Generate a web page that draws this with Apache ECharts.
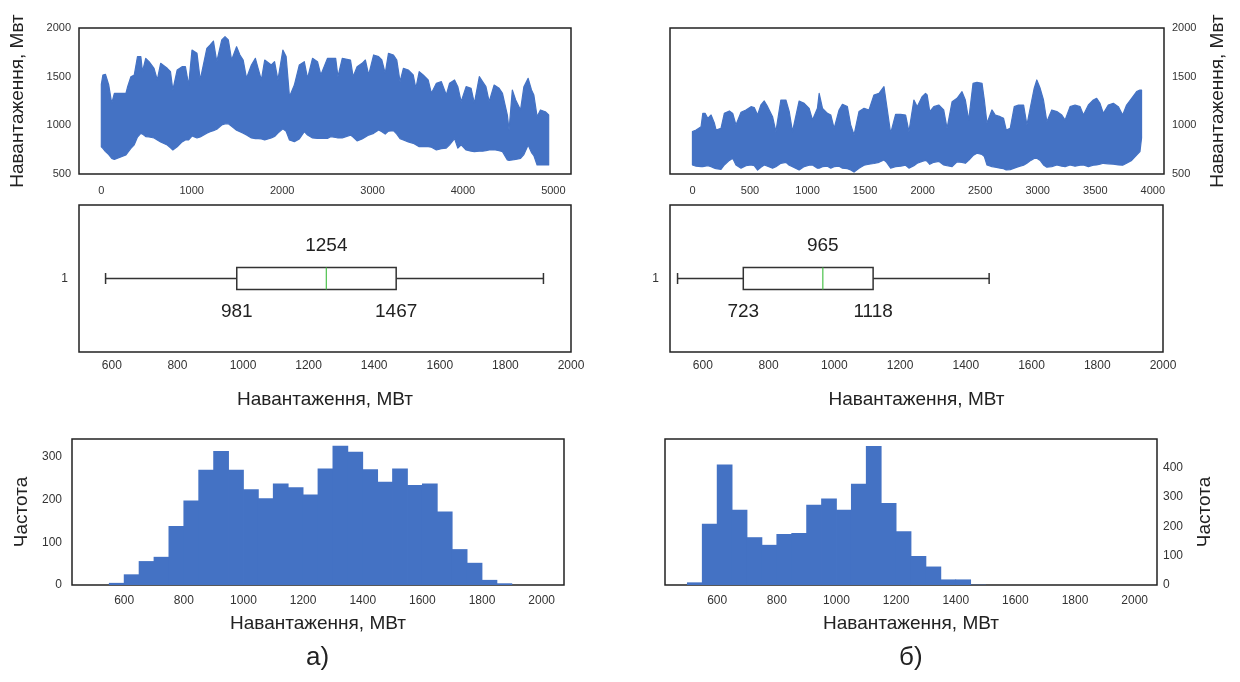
<!DOCTYPE html>
<html>
<head>
<meta charset="utf-8">
<script src="https://cdn.jsdelivr.net/npm/echarts@6/dist/echarts.min.js"></script>
<style>html,body{margin:0;padding:0;background:#fff}#chart{width:1240px;height:682px}</style>
</head>
<body>
<div id="chart"></div>
<script>
// ---------- DATA ----------
// a) hourly load, envelope (hour, daily max, daily min)
const hoursA = [0,17,46,82,115,144,272,291,327,364,400,437,455,491,528,583,619,656,729,765,791,839,893,930,966,1003,1058,1094,1167,1204,1240,1277,1332,1368,1405,1441,1496,1533,1569,1606,1660,1704,1734,1770,1807,1880,1916,1953,2008,2044,2081,2135,2190,2245,2281,2336,2391,2428,2501,2537,2592,2617,2665,2756,2785,2829,2884,2921,2957,3012,3067,3103,3140,3176,3231,3268,3304,3341,3395,3450,3479,3516,3560,3615,3651,3706,3761,3816,3852,3907,3943,3980,4035,4090,4126,4181,4217,4254,4290,4345,4400,4437,4491,4510,4546,4583,4637,4674,4721,4758,4784,4820,4857,4911,4948];
const upperA = [1420,1517,1524,1414,1226,1329,1329,1397,1500,1517,1706,1706,1551,1688,1654,1586,1466,1637,1586,1551,1363,1569,1603,1603,1414,1774,1740,1466,1791,1826,1866,1654,1877,1911,1877,1671,1808,1723,1671,1483,1620,1688,1586,1466,1671,1620,1654,1466,1774,1706,1295,1414,1620,1654,1483,1688,1654,1517,1688,1688,1688,1500,1688,1671,1500,1603,1637,1671,1517,1723,1706,1671,1534,1740,1723,1671,1449,1586,1569,1517,1380,1551,1517,1466,1329,1432,1449,1312,1432,1466,1397,1243,1397,1380,1226,1500,1449,1397,1243,1414,1380,1329,1106,952,1363,1260,1158,1397,1483,1363,1312,1089,1158,1140,1106];
const lowerA = [780,764,730,700,661,650,695,720,764,800,880,918,910,884,880,870,850,830,798,770,747,780,830,850,850,890,870,880,920,935,945,960,1004,1015,1015,990,950,935,920,900,870,864,864,860,850,870,885,920,965,940,850,832,860,935,900,870,866,866,866,884,875,870,870,900,880,840,860,880,900,918,952,935,910,940,945,910,864,850,830,815,800,781,781,781,775,747,760,766,800,864,766,800,747,735,730,735,735,740,747,750,740,730,644,640,644,650,661,700,798,720,690,593,593,593,593];

// б) hourly load envelope
const hoursB = [0,32,75,90,110,133,162,191,205,248,277,321,350,378,422,465,509,537,566,595,624,653,696,725,768,812,841,869,927,971,1014,1043,1086,1101,1130,1173,1202,1231,1274,1303,1346,1375,1404,1447,1491,1534,1577,1621,1664,1687,1722,1765,1809,1852,1881,1924,1953,1996,2025,2039,2062,2097,2140,2183,2212,2256,2299,2342,2371,2400,2438,2472,2516,2536,2559,2602,2631,2674,2703,2726,2761,2796,2833,2877,2906,2940,2969,2992,3021,3050,3079,3122,3166,3209,3238,3281,3324,3368,3397,3440,3483,3512,3541,3570,3613,3657,3700,3738,3772,3816,3859,3888,3902];
const upperB = [935,952,986,1123,1123,1072,1106,1021,952,969,1123,1148,1123,1004,1134,1158,1192,1182,1106,1209,1250,1192,1089,935,1260,1260,1141,935,1250,1226,1175,1055,1175,1329,1175,1123,1106,969,1158,1216,1192,1004,901,1141,1175,1158,1312,1329,1397,1209,918,1113,1113,1106,935,1260,1192,1295,1329,1312,1141,1192,1209,1158,969,1243,1278,1346,1260,1055,1432,1442,1432,1260,1021,1158,1106,1089,1072,952,969,1192,1209,1209,1004,1209,1380,1466,1380,1260,1038,1158,1141,1106,1055,1192,1209,1192,1106,1209,1260,1278,1226,1123,1209,1226,1192,1106,1209,1278,1346,1363,1363];
const lowerB = [593,580,576,576,580,585,576,560,555,548,593,640,661,593,560,585,593,585,541,570,593,580,560,575,610,620,590,576,541,576,590,593,560,560,576,580,560,576,580,560,555,541,520,560,590,600,608,620,644,620,560,576,580,590,560,585,610,630,640,630,600,620,630,593,585,576,625,620,610,640,690,713,700,680,593,576,570,560,555,541,545,560,576,590,610,640,660,661,640,593,570,576,593,580,576,593,580,590,593,576,590,593,600,610,605,600,593,590,610,640,695,730,870];

// box plots: [min, Q1, median, Q3, max]
const boxA = [581, 981, 1254, 1467, 1916];
const boxB = [523, 723, 965, 1118, 1471];

// histograms (bin edges, МВт) and counts
const binEdges = [500,550,600,650,700,750,800,850,900,950,1000,1050,1100,1150,1200,1250,1300,1350,1400,1450,1500,1550,1600,1650,1700,1750,1800,1850,1900,1950,2000];
const countsA = [0,5,25,56,66,138,198,270,314,270,224,203,238,229,212,273,326,312,271,242,273,234,238,172,84,52,12,4,0,0];
const countsB = [9,209,411,257,163,137,174,177,274,295,257,345,474,280,183,99,63,19,19,1,0,0,0,0,0,0,0,0,0,0];

// tick labels
const xTicksLineA = [0,1000,2000,3000,4000,5000];
const xTicksLineB = [0,500,1000,1500,2000,2500,3000,3500,4000];
const xTicksLoad = [600,800,1000,1200,1400,1600,1800,2000];
const yTicksHistA = [0,100,200,300];
const yTicksHistB = [0,100,200,300,400];

const titleLoadLine = 'Навантаження, Мвт';
const titleLoad = 'Навантаження, МВт';
const titleFreq = 'Частота';
const panelLabels = ['а)', 'б)'];

// ---------- STYLE ----------
const FONT = 'Liberation Sans, Arial, sans-serif';
const BLUE = '#4472C4';
const FRAME = '#222';

const chart = echarts.init(document.getElementById('chart'), null, {renderer: 'canvas'});

function gridBox(left, top, width, height) {
  return {left, top, width, height, show: true, borderColor: FRAME, borderWidth: 1.5,
          backgroundColor: 'transparent', containLabel: false, outerBoundsMode: 'none'};
}
function valAxis(gi, min, max, labelCfg, extra) {
  return Object.assign({
    gridIndex: gi, type: 'value', min, max,
    axisLine: {show: false}, axisTick: {show: false}, splitLine: {show: false},
    axisLabel: Object.assign({fontFamily: FONT, fontSize: 12, color: '#333', formatter: v => String(v)}, labelCfg)
  }, extra || {});
}
const nameStyle = {fontFamily: FONT, fontSize: 19, color: '#222'};

// one filled polygon per band: upper envelope forward, lower envelope back
function bandRender(params, api) {
  if (params.dataIndexInside !== 0) return null;
  const n = params.dataInsideLength;
  const pts = [];
  for (let j = 0; j < n; j++) pts.push(api.coord([api.value(0, j), api.value(2, j)]));
  for (let j = n - 1; j >= 0; j--) pts.push(api.coord([api.value(0, j), api.value(1, j)]));
  return {type: 'polygon', shape: {points: pts}, style: {fill: BLUE, stroke: BLUE, lineWidth: 1.2, lineJoin: 'round'}};
}
function bandSeries(gi, hours, lower, upper) {
  return {type: 'custom', xAxisIndex: gi, yAxisIndex: gi, renderItem: bandRender, silent: true, clip: true,
          data: hours.map((h, i) => [h, lower[i], upper[i]]), encode: {x: 0, y: [1, 2]}};
}

function boxRender(params, api) {
  const y = api.value(5);
  const vals = [0, 1, 2, 3, 4].map(k => api.value(k));
  const p = vals.map(v => api.coord([v, y]));
  const bh = api.size([0, 0.15])[1];
  const ch = api.size([0, 0.075])[1];
  const cy = p[0][1];
  const stroke = {stroke: '#333', lineWidth: 1.5};
  const lblUp = api.coord([vals[2], 1.22]);
  const lblQ1 = api.coord([vals[1], 0.775]);
  const lblQ3 = api.coord([vals[3], 0.775]);
  const txt = (pt, t) => ({type: 'text', x: pt[0], y: pt[1],
    style: {text: t, fill: '#222', fontSize: 19, fontFamily: FONT, align: 'center', verticalAlign: 'middle'}});
  return {type: 'group', children: [
    {type: 'line', shape: {x1: p[0][0], y1: cy, x2: p[1][0], y2: cy}, style: stroke},
    {type: 'line', shape: {x1: p[3][0], y1: cy, x2: p[4][0], y2: cy}, style: stroke},
    {type: 'line', shape: {x1: p[0][0], y1: cy - ch / 2, x2: p[0][0], y2: cy + ch / 2}, style: stroke},
    {type: 'line', shape: {x1: p[4][0], y1: cy - ch / 2, x2: p[4][0], y2: cy + ch / 2}, style: stroke},
    {type: 'rect', shape: {x: p[1][0], y: cy - bh / 2, width: p[3][0] - p[1][0], height: bh},
     style: {fill: '#fff', stroke: '#333', lineWidth: 1.5}},
    {type: 'line', shape: {x1: p[2][0], y1: cy - bh / 2, x2: p[2][0], y2: cy + bh / 2},
     style: {stroke: '#4cc24c', lineWidth: 1.2}},
    txt(lblUp, String(vals[2])), txt(lblQ1, String(vals[1])), txt(lblQ3, String(vals[3]))
  ]};
}

function histRender(params, api) {
  if (!api.value(2)) return null;
  const a = api.coord([api.value(0), api.value(2)]);
  const b = api.coord([api.value(1), 0]);
  return {type: 'rect', shape: {x: a[0] - 0.4, y: a[1], width: b[0] - a[0] + 0.8, height: b[1] - a[1]},
          style: {fill: BLUE}};
}
function histData(counts) {
  return counts.map((c, i) => [binEdges[i], binEdges[i + 1], c]);
}
const loadName = {name: titleLoad, nameLocation: 'middle', nameTextStyle: nameStyle};

const option = {
  animation: false,
  backgroundColor: '#fff',
  textStyle: {fontFamily: FONT},
  grid: [
    gridBox(79, 28, 492, 146),
    gridBox(670, 28, 494, 146),
    gridBox(79, 205, 492, 147),
    gridBox(670, 205, 493, 147),
    gridBox(72, 439, 492, 146),
    gridBox(665, 439, 492, 146)
  ],
  xAxis: [
    valAxis(0, -247, 5195, {margin: 11, customValues: xTicksLineA, fontSize: 11}),
    valAxis(1, -195, 4097, {margin: 11, customValues: xTicksLineB, fontSize: 11}),
    valAxis(2, 500, 2000, {margin: 8, customValues: xTicksLoad, fontSize: 12}, Object.assign({nameGap: 38}, loadName)),
    valAxis(3, 500, 2000, {margin: 8, customValues: xTicksLoad, fontSize: 12}, Object.assign({nameGap: 38}, loadName)),
    valAxis(4, 425, 2075, {margin: 10, customValues: xTicksLoad, fontSize: 12}, Object.assign({nameGap: 29}, loadName)),
    valAxis(5, 425, 2075, {margin: 10, customValues: xTicksLoad, fontSize: 12}, Object.assign({nameGap: 29}, loadName))
  ],
  yAxis: [
    valAxis(0, 500, 2000, {margin: 8, fontSize: 11}, {interval: 500,
      name: titleLoadLine, nameLocation: 'middle', nameGap: 52, nameRotate: 90, nameTextStyle: nameStyle}),
    valAxis(1, 500, 2000, {margin: 8, fontSize: 11}, {interval: 500, position: 'right',
      name: titleLoadLine, nameLocation: 'middle', nameGap: 44, nameRotate: 90, nameTextStyle: nameStyle}),
    valAxis(2, 0.5, 1.5, {margin: 11, customValues: [1], fontSize: 12}),
    valAxis(3, 0.5, 1.5, {margin: 11, customValues: [1], fontSize: 12}),
    valAxis(4, 0, 342, {margin: 10, customValues: yTicksHistA, fontSize: 12},
      {name: titleFreq, nameLocation: 'middle', nameGap: 41, nameRotate: 90, nameTextStyle: nameStyle}),
    valAxis(5, 0, 498, {margin: 6, customValues: yTicksHistB, fontSize: 12},
      {position: 'right', name: titleFreq, nameLocation: 'middle', nameGap: 38, nameRotate: 90, nameTextStyle: nameStyle})
  ],
  series: [
    bandSeries(0, hoursA, lowerA, upperA),
    bandSeries(1, hoursB, lowerB, upperB),
    {type: 'custom', xAxisIndex: 2, yAxisIndex: 2, renderItem: boxRender, silent: true,
     data: [[...boxA, 1]], encode: {x: [0, 1, 2, 3, 4], y: 5}},
    {type: 'custom', xAxisIndex: 3, yAxisIndex: 3, renderItem: boxRender, silent: true,
     data: [[...boxB, 1]], encode: {x: [0, 1, 2, 3, 4], y: 5}},
    {type: 'custom', xAxisIndex: 4, yAxisIndex: 4, renderItem: histRender, silent: true, clip: true,
     data: histData(countsA), encode: {x: [0, 1], y: 2}},
    {type: 'custom', xAxisIndex: 5, yAxisIndex: 5, renderItem: histRender, silent: true, clip: true,
     data: histData(countsB), encode: {x: [0, 1], y: 2}}
  ],
  graphic: [
    {type: 'text', left: 306, top: 645, style: {text: panelLabels[0], fontSize: 26, fontFamily: FONT, fill: '#222'}},
    {type: 'text', left: 899, top: 645, style: {text: panelLabels[1], fontSize: 26, fontFamily: FONT, fill: '#222'}}
  ]
};
chart.setOption(option);
</script>
</body>
</html>
